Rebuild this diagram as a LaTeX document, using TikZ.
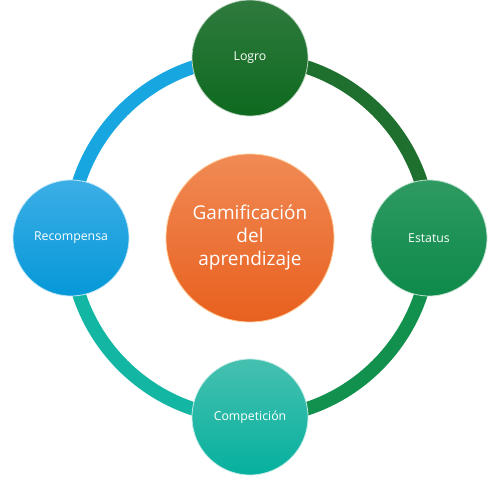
\documentclass[tikz,border=0pt]{standalone}
\usepackage{fontspec}
\setmainfont{Open Sans}
\begin{document}
\begin{tikzpicture}[x=1pt,y=1pt,
  ringarc/.style={line width=13.5pt},
  bubble/.style={circle, minimum size=116pt, inner sep=0pt, text=white, font=\fontsize{12.3}{14}\selectfont, draw=white!70!#1, line width=0.8pt},
  hub/.style={circle, minimum size=168pt, inner sep=0pt, text=white, align=center, font=\fontsize{19}{23}\selectfont, draw=orange!40!white, line width=0.8pt, top color=hubtop, bottom color=hubbot}
]
\definecolor{logtop}{HTML}{2F7A3E}\definecolor{logbot}{HTML}{0E6A1E}
\definecolor{esttop}{HTML}{2E9A62}\definecolor{estbot}{HTML}{0E8A4A}
\definecolor{comtop}{HTML}{46C0B0}\definecolor{combot}{HTML}{06B09E}
\definecolor{rectop}{HTML}{3CAEE6}\definecolor{recbot}{HTML}{0598D8}
\definecolor{hubtop}{HTML}{F08A55}\definecolor{hubbot}{HTML}{E8601E}
\definecolor{arcA}{HTML}{1F6F2E}\definecolor{arcB}{HTML}{12904E}
\definecolor{arcC}{HTML}{12B6A2}\definecolor{arcD}{HTML}{18A6E0}
\useasboundingbox (0,0) rectangle (500,476);
\coordinate (c) at (250,238);
% ring arcs
\draw[ringarc, arcA] (250,418) arc[start angle=90, end angle=0, radius=180];
\draw[ringarc, arcB] (430,238) arc[start angle=0, end angle=-90, radius=180];
\draw[ringarc, arcC] (250,58) arc[start angle=-90, end angle=-180, radius=180];
\draw[ringarc, arcD] (70,238) arc[start angle=180, end angle=90, radius=180];
% nodes
\node[bubble=logtop, top color=logtop, bottom color=logbot] (logro) at (250,418) {Logro};
\node[bubble=esttop, top color=esttop, bottom color=estbot] (estatus) at (429,238) {Estatus};
\node[bubble=comtop, top color=comtop, bottom color=combot] (comp) at (250,59) {Competición};
\node[bubble=rectop, top color=rectop, bottom color=recbot] (recomp) at (71,238) {Recompensa};
\node[hub] (hubn) at (c) {Gamificación\\del\\aprendizaje};
\end{tikzpicture}
\end{document}
